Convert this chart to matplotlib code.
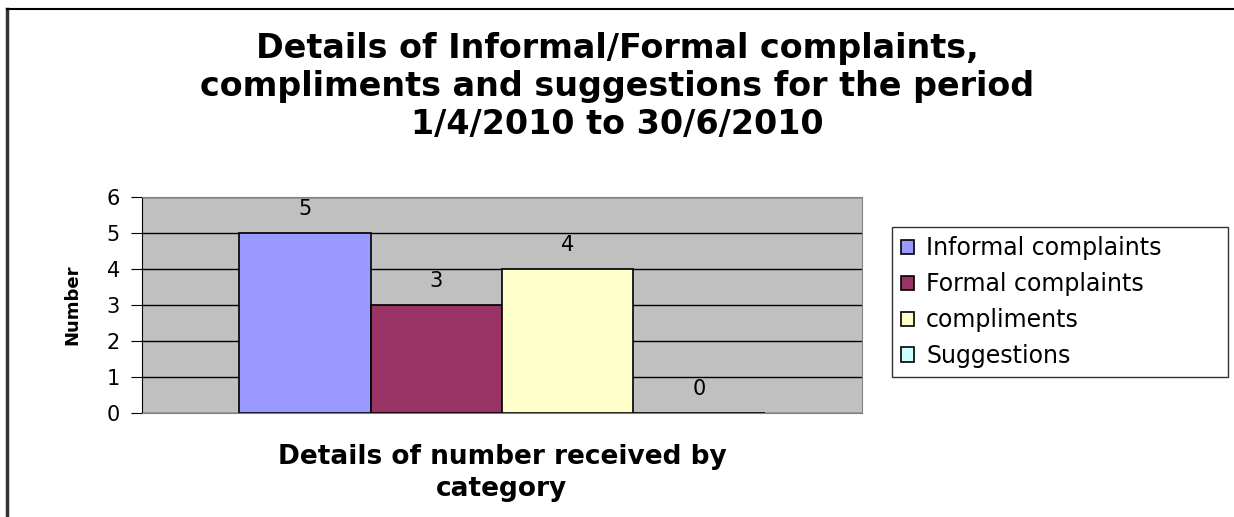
import matplotlib.pyplot as plt
import numpy as np
from matplotlib.lines import Line2D

plt.rcParams['font.family'] = ['DejaVu Sans']

series = ["Informal complaints", "Formal complaints", "compliments", "Suggestions"]
values = [5, 3, 4, 0]
colors = ["#9999FF", "#993366", "#FFFFCC", "#CCFFFF"]
category = "Details of number received by\ncategory"

fig = plt.figure(figsize=(12.34, 5.17), dpi=100)
ax = fig.add_axes([142/1234, 1 - 413/517, 720/1234, 216/517])

w = 526 / 720 / 4
x = (np.arange(len(values)) - 1.5) * w
bars = ax.bar(x, values, width=w, color=colors, edgecolor="black", linewidth=1.2,
              label=series, zorder=3)
for xi, v in zip(x, values):
    ax.text(xi, v + 0.4, str(v), ha="center", va="bottom", fontsize=15, zorder=4)

ax.set_xlim(-0.5, 0.5)
ax.set_ylim(0, 6)
ax.set_yticks(range(7))
ax.set_xticks([])
ax.set_facecolor("#C0C0C0")
ax.grid(axis="y", color="black", linewidth=1, zorder=1)
ax.tick_params(axis="y", labelsize=15, length=8, direction="out", pad=8)
for s in ["top", "right", "bottom"]:
    ax.spines[s].set_color("#808080")
ax.spines["left"].set_color("black")
ax.set_ylabel("Number", fontsize=13, fontweight="bold", labelpad=18)
ax.set_xlabel(category, fontsize=19, fontweight="bold", labelpad=22, linespacing=1.32)

fig.suptitle("Details of Informal/Formal complaints,\ncompliments and suggestions for the period\n1/4/2010 to 30/6/2010",
             fontsize=24, fontweight="bold", x=617/1234, y=1 - 32/517, va="top", linespacing=1.2)

leg = ax.legend(handles=bars.patches, labels=series, loc="upper left", mode="expand",
                bbox_to_anchor=(892/1234, 1 - 378/517, 336/1234, 151/517),
                bbox_transform=fig.transFigure,
                fontsize=17, frameon=True, fancybox=False, handlelength=0.55,
                handleheight=0.55, handletextpad=0.5, labelspacing=0.5, borderpad=0.4,
                borderaxespad=0)
leg.get_frame().set_edgecolor("black")
leg.get_frame().set_linewidth(1)

# outer chart border (only top and left visible)
fig.add_artist(Line2D([7/1234, 7/1234], [0, 1 - 9/517], color="#333333", linewidth=2.5,
                      transform=fig.transFigure))
fig.add_artist(Line2D([7/1234, 1], [1 - 9/517, 1 - 9/517], color="black", linewidth=1.5,
                      transform=fig.transFigure))

fig.savefig("out.png", dpi=100)
